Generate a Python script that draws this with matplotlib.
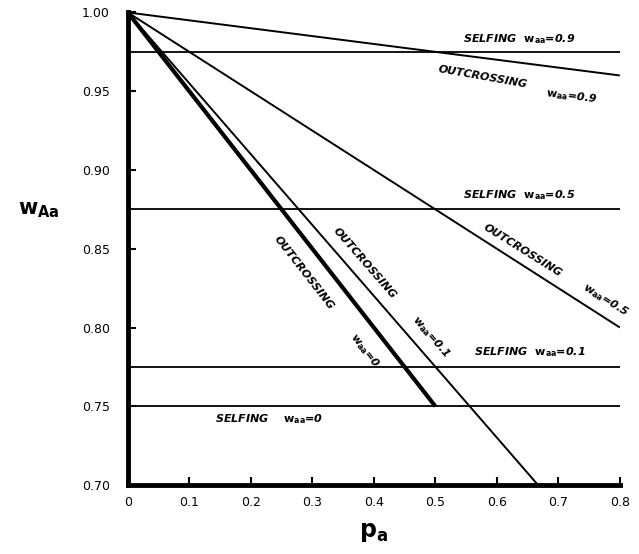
import matplotlib.pyplot as plt

# selfing: horizontal equilibrium levels of w_Aa
self_waa = ['0.9', '0.5', '0.1', '0']
self_level = [0.975, 0.875, 0.775, 0.75]

# outcrossing: straight lines starting at (0, 1)
out_waa = ['0', '0.1', '0.5', '0.9']
out_x_end = [0.5, 0.667, 0.8, 0.8]
out_y_end = [0.75, 0.70, 0.80, 0.96]

x_ticks = [0.0, 0.1, 0.2, 0.3, 0.4, 0.5, 0.6, 0.7, 0.8]
x_tick_labels = ['0', '0.1', '0.2', '0.3', '0.4', '0.5', '0.6', '0.7', '0.8']
y_ticks = [0.70, 0.75, 0.80, 0.85, 0.90, 0.95, 1.00]
y_tick_labels = ['0.70', '0.75', '0.80', '0.85', '0.90', '0.95', '1.00']

fig = plt.figure(figsize=(6.39, 5.54), dpi=100)
ax = fig.add_axes([0.200, 0.1245, 0.770, 0.853])

for lvl in self_level:
    ax.plot([0, 0.8], [lvl, lvl], color='black', lw=1.3, solid_capstyle='butt')

for i in range(len(out_waa)):
    lw = 3.0 if out_waa[i] == '0' else 1.4
    ax.plot([0, out_x_end[i]], [1.0, out_y_end[i]], color='black', lw=lw,
            solid_capstyle='butt')

ax.set_xlim(0, 0.8)
ax.set_ylim(0.70, 1.00)
ax.set_xticks(x_ticks)
ax.set_xticklabels(x_tick_labels)
ax.set_yticks(y_ticks)
ax.set_yticklabels(y_tick_labels)
ax.tick_params(direction='in', length=6, width=1.5, labelsize=9)
ax.tick_params(axis='y', pad=13)
ax.tick_params(axis='x', pad=8)
for s in ['top', 'right']:
    ax.spines[s].set_visible(False)
for s in ['left', 'bottom']:
    ax.spines[s].set_linewidth(3.5)

ax.set_xlabel(r'$\mathbf{p_a}$', fontsize=17, va='center')
ax.xaxis.set_label_coords(0.5, -0.10)
ax.set_ylabel(r'$\mathbf{w_{Aa}}$', fontsize=15, rotation=0, va='center')
ax.yaxis.set_label_coords(-0.18, 0.583)

wtxt = r'$\mathbf{w}_{\mathbf{aa}}$='
kw = dict(fontsize=8, style='italic', fontweight='bold', color='black')

# selfing labels
sx = [0.545, 0.545, 0.563, 0.141]
sy = [0.981, 0.882, 0.7825, 0.740]
for i in range(len(self_waa)):
    gap = '    ' if self_waa[i] == '0' else '  '
    ax.text(sx[i], sy[i], 'SELFING' + gap + wtxt + self_waa[i],
            ha='left', va='baseline', **kw)

# outcrossing labels (word and w_aa part placed separately along the lines)
ox = [0.286, 0.385, 0.642, 0.577]
oy = [0.8345, 0.841, 0.849, 0.959]
wx = [0.385, 0.493, 0.776, 0.722]
wy = [0.7857, 0.794, 0.8174, 0.947]
rot = [-52, -49, -32, -10]
for i in range(len(out_waa)):
    ax.text(ox[i], oy[i], 'OUTCROSSING', rotation=rot[i], rotation_mode='anchor',
            ha='center', va='center', **kw)
    ax.text(wx[i], wy[i], wtxt + out_waa[i], rotation=rot[i] if i < 3 else -7,
            rotation_mode='anchor', ha='center', va='center', **kw)

fig.savefig('out.png', dpi=100)
